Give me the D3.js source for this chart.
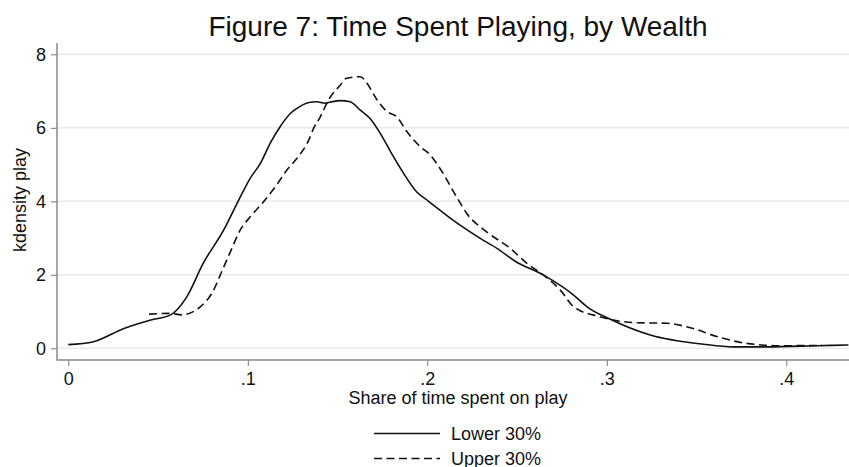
<!DOCTYPE html>
<html>
<head>
<meta charset="utf-8">
<script src="https://cdn.jsdelivr.net/npm/d3@7"></script>
<style>
  body { margin: 0; background: #fff; }
  text { font-family: "Liberation Sans", Arial, sans-serif; fill: #111; }
</style>
</head>
<body>
<svg id="chart" width="849" height="467"></svg>
<script>
// kernel density of play share, lower 30% of wealth
const lowerX = [0, 0.014, 0.031, 0.046, 0.057, 0.066, 0.075, 0.0866, 0.095, 0.1014, 0.107, 0.1125, 0.118, 0.1237, 0.1274, 0.134, 0.1384, 0.143, 0.146, 0.1515, 0.157, 0.1627, 0.168, 0.1738, 0.18, 0.1868, 0.194, 0.2007, 0.207, 0.2128, 0.2295, 0.2388, 0.249, 0.2648, 0.2815, 0.289, 0.302, 0.3242, 0.354, 0.3706, 0.389, 0.417, 0.4346]
const lowerY = [0.1, 0.18, 0.54, 0.77, 0.91, 1.40, 2.30, 3.22, 4.04, 4.63, 5.03, 5.58, 6.03, 6.39, 6.53, 6.69, 6.71, 6.67, 6.70, 6.74, 6.71, 6.48, 6.26, 5.85, 5.31, 4.76, 4.26, 4.0, 3.76, 3.54, 2.99, 2.72, 2.37, 1.99, 1.45, 1.13, 0.79, 0.36, 0.11, 0.04, 0.04, 0.07, 0.09]

// upper 30% of wealth
const upperX = [0.045, 0.057, 0.063, 0.0735, 0.080, 0.0856, 0.0905, 0.0958, 0.1014, 0.1088, 0.116, 0.1218, 0.1274, 0.134, 0.1367, 0.1404, 0.145, 0.1515, 0.155, 0.1627, 0.1664, 0.172, 0.1776, 0.183, 0.1887, 0.196, 0.2017, 0.207, 0.2174, 0.222, 0.233, 0.2462, 0.2555, 0.2648, 0.274, 0.2815, 0.296, 0.315, 0.3335, 0.348, 0.3613, 0.38, 0.3985, 0.42]
const upperY = [0.93, 0.95, 0.91, 1.13, 1.50, 2.10, 2.65, 3.22, 3.58, 3.99, 4.44, 4.85, 5.17, 5.67, 5.99, 6.30, 6.76, 7.16, 7.35, 7.39, 7.21, 6.76, 6.44, 6.30, 5.89, 5.49, 5.26, 4.90, 4.03, 3.67, 3.17, 2.72, 2.31, 1.99, 1.59, 1.13, 0.86, 0.70, 0.68, 0.54, 0.32, 0.12, 0.07, 0.08]

const xTicks = [0, 0.1, 0.2, 0.3, 0.4]
const xTickLabels = ['0', '.1', '.2', '.3', '.4']
const yTicks = [0, 2, 4, 6, 8]
const seriesNames = ['Lower 30%', 'Upper 30%']

const svg = d3.select('#chart')
const plotL = 57, plotR = 849, plotT = 43, plotB = 360

const x = d3.scaleLinear().domain([0, 0.4]).range([68.3, 786.3])
const y = d3.scaleLinear().domain([0, 8]).range([348.3, 54.3])

// gridlines
svg.append('g')
  .selectAll('line')
  .data(yTicks)
  .join('line')
  .attr('x1', plotL).attr('x2', plotR)
  .attr('y1', d => y(d)).attr('y2', d => y(d))
  .attr('stroke', '#eaeaea')
  .attr('stroke-width', 1.5)

// axes
const yAxis = svg.append('g')
  .attr('transform', `translate(${plotL},0)`)
  .call(d3.axisLeft(y).tickValues(yTicks).tickSize(6).tickPadding(5).tickFormat(d3.format('d')))
const xAxis = svg.append('g')
  .attr('transform', `translate(0,${plotB})`)
  .call(d3.axisBottom(x).tickValues(xTicks).tickSize(6).tickPadding(6).tickFormat((d, i) => xTickLabels[i]))

for (const ax of [yAxis, xAxis]) {
  ax.select('.domain').remove()
  ax.selectAll('.tick line').attr('stroke', '#777')
  ax.selectAll('.tick text').style('font-size', '18px').attr('fill', '#111')
    .style('font-family', '"Liberation Sans", Arial, sans-serif')
}
svg.append('line').attr('x1', plotL).attr('x2', plotL).attr('y1', plotT).attr('y2', plotB + 0.5)
  .attr('stroke', '#888').attr('stroke-width', 1.5)
svg.append('line').attr('x1', plotL).attr('x2', plotR).attr('y1', plotB).attr('y2', plotB)
  .attr('stroke', '#888').attr('stroke-width', 1.5)

// curves
const line = d3.line().x(d => x(d[0])).y(d => y(d[1])).curve(d3.curveMonotoneX)
svg.append('path')
  .datum(d3.zip(lowerX, lowerY))
  .attr('d', line)
  .attr('fill', 'none').attr('stroke', '#111').attr('stroke-width', 1.6)
svg.append('path')
  .datum(d3.zip(upperX, upperY))
  .attr('d', line)
  .attr('fill', 'none').attr('stroke', '#111').attr('stroke-width', 1.6)
  .attr('stroke-dasharray', '8,4.5')

// titles
svg.append('text').attr('x', 458).attr('y', 36).attr('text-anchor', 'middle')
  .style('font-size', '28px').text('Figure 7: Time Spent Playing, by Wealth')
svg.append('text').attr('x', 458).attr('y', 404).attr('text-anchor', 'middle')
  .style('font-size', '18px').text('Share of time spent on play')
svg.append('text').attr('transform', 'translate(26,200) rotate(-90)').attr('text-anchor', 'middle')
  .style('font-size', '18px').text('kdensity play')

// legend
const legend = svg.append('g')
seriesNames.forEach((name, i) => {
  const ly = 433.5 + i * 25
  legend.append('line').attr('x1', 374).attr('x2', 440).attr('y1', ly).attr('y2', ly)
    .attr('stroke', '#111').attr('stroke-width', 1.6)
    .attr('stroke-dasharray', i === 1 ? '8,4.5' : null)
  legend.append('text').attr('x', 451).attr('y', ly + 6)
    .style('font-size', '18px').text(name)
})
</script>
</body>
</html>
